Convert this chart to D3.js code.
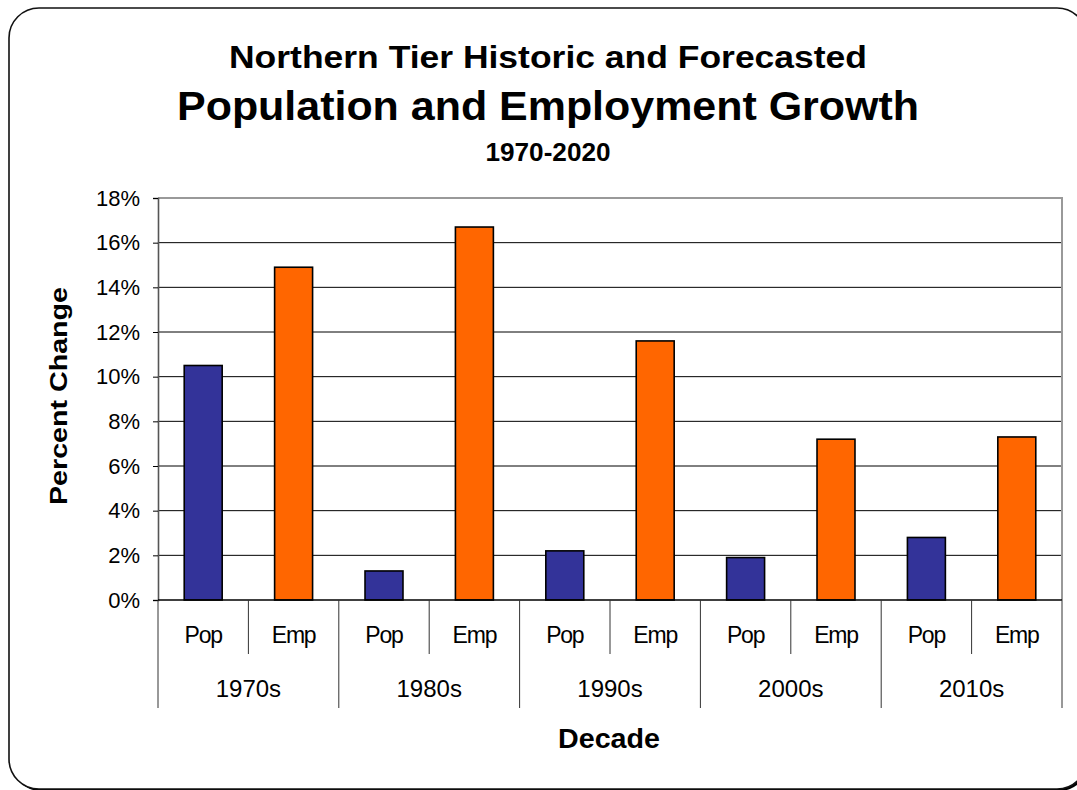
<!DOCTYPE html>
<html>
<head>
<meta charset="utf-8">
<script src="https://cdn.jsdelivr.net/npm/d3@7"></script>
<style>
  html, body { margin: 0; padding: 0; background: #fff; }
  svg { display: block; font-family: "Liberation Sans", Arial, sans-serif; }
</style>
</head>
<body>
<svg id="chart" width="1077" height="790"></svg>
<script>
// Decade categories and the two series shown in each
const decades = ["1970s", "1980s", "1990s", "2000s", "2010s"];
const seriesNames = ["Pop", "Emp"];
const popValues = [10.5, 1.3, 2.2, 1.9, 2.8];
const empValues = [14.9, 16.7, 11.6, 7.2, 7.3];
const seriesColors = ["#333399", "#FF6600"];
const yTicks = [0, 2, 4, 6, 8, 10, 12, 14, 16, 18];

const titleLines = [
  "Northern Tier Historic and Forecasted",
  "Population and Employment Growth",
  "1970-2020"
];

(function draw() {
  const svg = d3.select("#chart");

  // Rounded frame with a dark edge at the lower right
  svg.append("rect")
    .attr("x", 11).attr("y", 10)
    .attr("width", 1078).attr("height", 781)
    .attr("rx", 30).attr("ry", 30)
    .attr("fill", "#000");
  svg.append("rect")
    .attr("x", 9).attr("y", 8)
    .attr("width", 1078).attr("height", 781)
    .attr("rx", 30).attr("ry", 30)
    .attr("fill", "#fff")
    .attr("stroke", "#111")
    .attr("stroke-width", 1.6);

  // Plot area bounds
  const plotLeft = 158, plotRight = 1062, plotTop = 198, plotBottom = 600;

  const x0 = d3.scaleBand().domain(decades).range([plotLeft, plotRight]).padding(0);
  const x1 = d3.scaleBand().domain(seriesNames).range([0, x0.bandwidth()]).padding(0);
  const y = d3.scaleLinear().domain([0, 18]).range([plotBottom, plotTop]);

  // Horizontal gridlines
  svg.append("g")
    .selectAll("line")
    .data(yTicks.filter(t => t > 0 && t < 18))
    .join("line")
    .attr("x1", plotLeft).attr("x2", plotRight)
    .attr("y1", d => y(d)).attr("y2", d => y(d))
    .attr("stroke", "#000").attr("stroke-width", 1);

  // Plot area border (top and right)
  svg.append("path")
    .attr("d", `M${plotLeft},${y(18)}H${plotRight}V${plotBottom}`)
    .attr("fill", "none")
    .attr("stroke", "#999").attr("stroke-width", 2);

  // Bars
  const rows = decades.map((d, i) => ({ decade: d, values: [popValues[i], empValues[i]] }));
  const barFrac = 0.42;
  const groups = svg.append("g")
    .selectAll("g")
    .data(rows)
    .join("g")
    .attr("transform", d => `translate(${x0(d.decade)},0)`);

  groups.selectAll("rect")
    .data(d => d.values.map((v, j) => ({ name: seriesNames[j], value: v, color: seriesColors[j] })))
    .join("rect")
    .attr("x", d => x1(d.name) + x1.bandwidth() * (1 - barFrac) / 2)
    .attr("width", x1.bandwidth() * barFrac)
    .attr("y", d => y(d.value))
    .attr("height", d => y(0) - y(d.value))
    .attr("fill", d => d.color)
    .attr("stroke", "#000")
    .attr("stroke-width", 1.6);

  // Y axis
  const yAxis = d3.axisLeft(y)
    .tickValues(yTicks)
    .tickFormat(d => d + "%")
    .tickSize(5)
    .tickPadding(13);

  const yg = svg.append("g")
    .attr("transform", `translate(${plotLeft},0)`)
    .call(yAxis);
  yg.select(".domain").attr("stroke", "#555").attr("stroke-width", 1.6);
  yg.selectAll(".tick line").attr("stroke", "#000");
  yg.selectAll(".tick text")
    .attr("font-size", 22)
    .attr("fill", "#000")
    .attr("font-family", "Liberation Sans, Arial, sans-serif");

  // Baseline
  svg.append("line")
    .attr("x1", plotLeft).attr("x2", plotRight)
    .attr("y1", plotBottom).attr("y2", plotBottom)
    .attr("stroke", "#000").attr("stroke-width", 1.6);

  // Two-level category axis
  const cat = svg.append("g");
  const subBottom = 654, groupBottom = 708;

  // separators between series within each decade
  cat.selectAll("line.sub")
    .data(decades)
    .join("line")
    .attr("class", "sub")
    .attr("x1", d => x0(d) + x1("Emp")).attr("x2", d => x0(d) + x1("Emp"))
    .attr("y1", plotBottom).attr("y2", subBottom)
    .attr("stroke", "#333").attr("stroke-width", 1);

  // separators between decades, including both ends
  cat.selectAll("line.grp")
    .data(decades.map(d => x0(d)).concat([plotRight]))
    .join("line")
    .attr("class", "grp")
    .attr("x1", d => d).attr("x2", d => d)
    .attr("y1", plotBottom).attr("y2", groupBottom)
    .attr("stroke", "#333").attr("stroke-width", 1);

  // series labels
  cat.selectAll("g.sublabels")
    .data(decades)
    .join("g")
    .attr("class", "sublabels")
    .attr("transform", d => `translate(${x0(d)},0)`)
    .selectAll("text")
    .data(seriesNames)
    .join("text")
    .attr("x", d => x1(d) + x1.bandwidth() / 2)
    .attr("y", 643)
    .attr("text-anchor", "middle")
    .attr("font-size", 23)
    .attr("letter-spacing", -1.2)
    .text(d => d);

  // decade labels
  cat.selectAll("text.decade")
    .data(decades)
    .join("text")
    .attr("class", "decade")
    .attr("x", d => x0(d) + x0.bandwidth() / 2)
    .attr("y", 697)
    .attr("text-anchor", "middle")
    .attr("font-size", 24)
    .text(d => d);

  // Axis titles
  svg.append("text")
    .attr("x", 609).attr("y", 748)
    .attr("text-anchor", "middle")
    .attr("font-size", 27)
    .attr("font-weight", "bold")
    .attr("textLength", 102)
    .attr("lengthAdjust", "spacingAndGlyphs")
    .text("Decade");

  svg.append("text")
    .attr("transform", "translate(67,396) rotate(-90)")
    .attr("text-anchor", "middle")
    .attr("font-size", 24)
    .attr("font-weight", "bold")
    .attr("textLength", 218)
    .attr("lengthAdjust", "spacingAndGlyphs")
    .text("Percent Change");

  // Title block
  const titleSpec = [
    { y: 68, size: 32, len: 638 },
    { y: 120, size: 41, len: 742 },
    { y: 161, size: 25, len: 125 }
  ];
  svg.append("g")
    .selectAll("text")
    .data(titleLines)
    .join("text")
    .attr("x", 548)
    .attr("y", (d, i) => titleSpec[i].y)
    .attr("text-anchor", "middle")
    .attr("font-weight", "bold")
    .attr("font-size", (d, i) => titleSpec[i].size)
    .attr("textLength", (d, i) => titleSpec[i].len)
    .attr("lengthAdjust", "spacingAndGlyphs")
    .text(d => d);
})();
</script>
</body>
</html>
